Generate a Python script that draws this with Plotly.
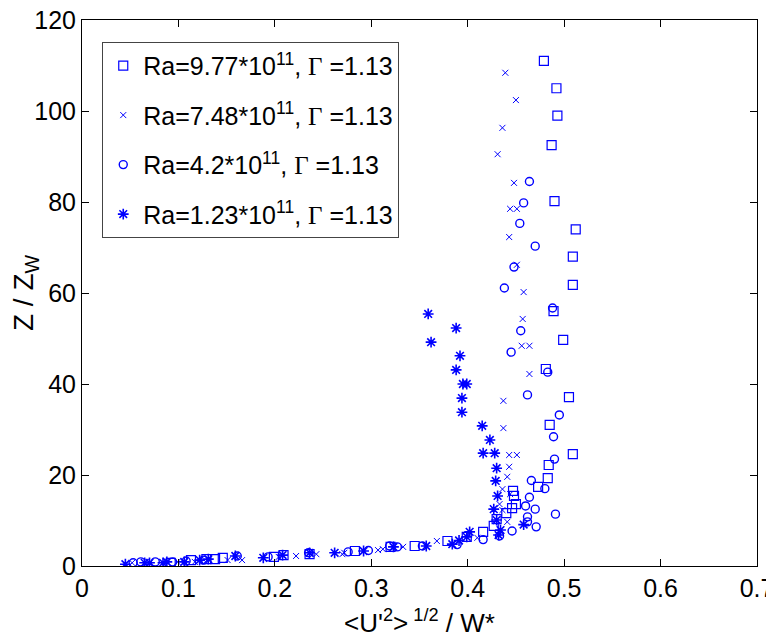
import plotly.graph_objects as go

# Ra = 9.77e11 (squares)
sq_x = [0.092, 0.113, 0.129, 0.138, 0.146, 0.199, 0.209, 0.236, 0.283, 0.320, 0.345, 0.379,
        0.399, 0.416, 0.427, 0.430, 0.440, 0.446, 0.450, 0.448, 0.447, 0.473, 0.483, 0.484,
        0.509, 0.485, 0.505, 0.481, 0.499, 0.489, 0.509, 0.509, 0.512, 0.490, 0.487, 0.493,
        0.492, 0.479]
sq_y = [0.7, 1.3, 1.5, 1.5, 1.8, 2.0, 2.4, 2.6, 3.3, 4.2, 4.4, 5.5,
        6.4, 7.5, 8.8, 10.3, 11.6, 12.7, 13.6, 15.4, 16.5, 17.4, 19.3, 22.2,
        24.6, 31.0, 37.1, 43.3, 49.7, 56.0, 61.8, 68.0, 74.0, 80.2, 92.5, 99.0,
        105.0, 111.0]

# Ra = 7.48e11 (crosses)
cr_x = [0.052, 0.099, 0.117, 0.151, 0.166, 0.204, 0.222, 0.243, 0.270, 0.272, 0.307, 0.312,
        0.333, 0.368, 0.410, 0.441, 0.436, 0.433, 0.444, 0.436, 0.441, 0.443, 0.443, 0.451,
        0.437, 0.437, 0.464, 0.456, 0.464, 0.457, 0.458, 0.451, 0.443, 0.444, 0.451, 0.448,
        0.431, 0.436, 0.450, 0.439]
cr_y = [0.7, 0.9, 0.9, 1.3, 1.3, 2.0, 2.2, 2.6, 2.6, 2.9, 3.5, 3.7,
        4.2, 5.5, 6.2, 9.7, 12.3, 13.6, 15.8, 16.9, 19.6, 21.8, 24.4, 24.4,
        30.3, 36.3, 42.2, 48.4, 48.4, 54.3, 60.2, 66.2, 72.3, 78.5, 78.5, 84.2,
        90.5, 96.3, 102.4, 108.4]

# Ra = 4.2e11 (circles)
ci_x = [0.053, 0.061, 0.076, 0.094, 0.108, 0.126, 0.161, 0.193, 0.235, 0.276, 0.297, 0.319,
        0.327, 0.353, 0.389, 0.416, 0.433, 0.446, 0.471, 0.462, 0.462, 0.491, 0.470, 0.460,
        0.464, 0.480, 0.466, 0.490, 0.489, 0.495, 0.462, 0.483, 0.445, 0.455, 0.488, 0.438,
        0.448, 0.470, 0.454, 0.458, 0.464]
ci_y = [0.7, 0.9, 0.9, 0.9, 1.1, 1.3, 2.2, 2.0, 2.9, 3.1, 3.4, 4.4,
        4.2, 4.4, 4.7, 5.8, 6.6, 7.7, 8.6, 9.7, 10.8, 11.4, 12.5, 13.2,
        15.1, 17.0, 18.8, 23.5, 28.4, 33.2, 37.6, 42.6, 47.0, 51.7, 56.7, 61.1,
        65.7, 70.3, 75.3, 79.8, 84.5]

# Ra = 1.23e11 (stars)
st_x = [0.045, 0.065, 0.070, 0.084, 0.088, 0.106, 0.122, 0.131, 0.159, 0.188, 0.208, 0.236,
        0.262, 0.292, 0.323, 0.357, 0.384, 0.391, 0.399, 0.402, 0.432, 0.434, 0.458, 0.430,
        0.427, 0.431, 0.429, 0.430, 0.416, 0.428, 0.423, 0.415, 0.394, 0.394, 0.395, 0.399,
        0.388, 0.392, 0.362, 0.388, 0.359]
st_y = [0.4, 0.7, 0.7, 0.7, 0.9, 0.9, 1.3, 1.5, 2.2, 1.8, 2.4, 2.9,
        2.9, 3.3, 4.2, 4.4, 4.8, 5.6, 6.4, 7.5, 6.8, 7.9, 9.1, 10.1,
        12.5, 15.4, 18.7, 21.5, 24.8, 24.8, 27.7, 30.8, 33.8, 36.9, 40.0, 40.0,
        43.1, 46.2, 49.2, 52.3, 55.4]

x_ticks = [0, 0.1, 0.2, 0.3, 0.4, 0.5, 0.6, 0.7]
x_ticklabels = ["0", "0.1", "0.2", "0.3", "0.4", "0.5", "0.6", "0.7"]

GAMMA = "<span style='font-family:Liberation Serif'>Γ</span>"
names = [
    f"Ra=9.77*10<sup>11</sup>, {GAMMA} =1.13",
    f"Ra=7.48*10<sup>11</sup>, {GAMMA} =1.13",
    f"Ra=4.2*10<sup>11</sup>, {GAMMA} =1.13",
    f"Ra=1.23*10<sup>11</sup>, {GAMMA} =1.13",
]

BLUE = "#0000FF"
fig = go.Figure()
specs = [
    (sq_x, sq_y, "square-open", 9, 1.2),
    (cr_x, cr_y, "x-thin-open", 6, 1.0),
    (ci_x, ci_y, "circle-open", 8, 1.4),
    (st_x, st_y, "asterisk-open", 9, 1.6),
]
for i, ((xs, ys, sym, sz, lw), nm) in enumerate(zip(specs, names)):
    fig.add_trace(go.Scatter(
        x=xs, y=ys, mode="markers", name=nm, legendgroup=f"g{i}",
        marker=dict(symbol=sym, size=sz, color=BLUE, line=dict(color=BLUE, width=lw)),
    ))

axis_common = dict(
    showgrid=False, zeroline=False, showline=True, linecolor="black", linewidth=1,
    mirror="ticks", ticks="inside", ticklen=7, tickcolor="black", automargin=False,
    ticklabeloverflow="allow",
    tickfont=dict(family="Liberation Sans", size=25, color="black"),
)
fig.update_layout(
    width=766, height=636,
    margin=dict(l=74, r=17, t=12, b=78, autoexpand=False),
    paper_bgcolor="white", plot_bgcolor="white",
    font=dict(family="Liberation Sans", color="black"),
    xaxis=dict(range=[0, 0.7], tickvals=x_ticks, ticktext=x_ticklabels,
               title=dict(text="&lt;U'<sup>2</sup>&gt;<sup> 1/2</sup> / W*",
                          font=dict(size=26), standoff=12), **axis_common),
    yaxis=dict(range=[0, 120], dtick=20,
               title=dict(text="Z / Z<sub>W</sub>", font=dict(size=28), standoff=2),
               **axis_common),
    legend=dict(x=0.03, y=0.96, xanchor="left", yanchor="top",
                bgcolor="white", bordercolor="#444", borderwidth=1,
                font=dict(family="Liberation Sans", size=25, color="black"),
                tracegroupgap=14, itemwidth=30),
    showlegend=True,
)
fig.write_html("out.html")
